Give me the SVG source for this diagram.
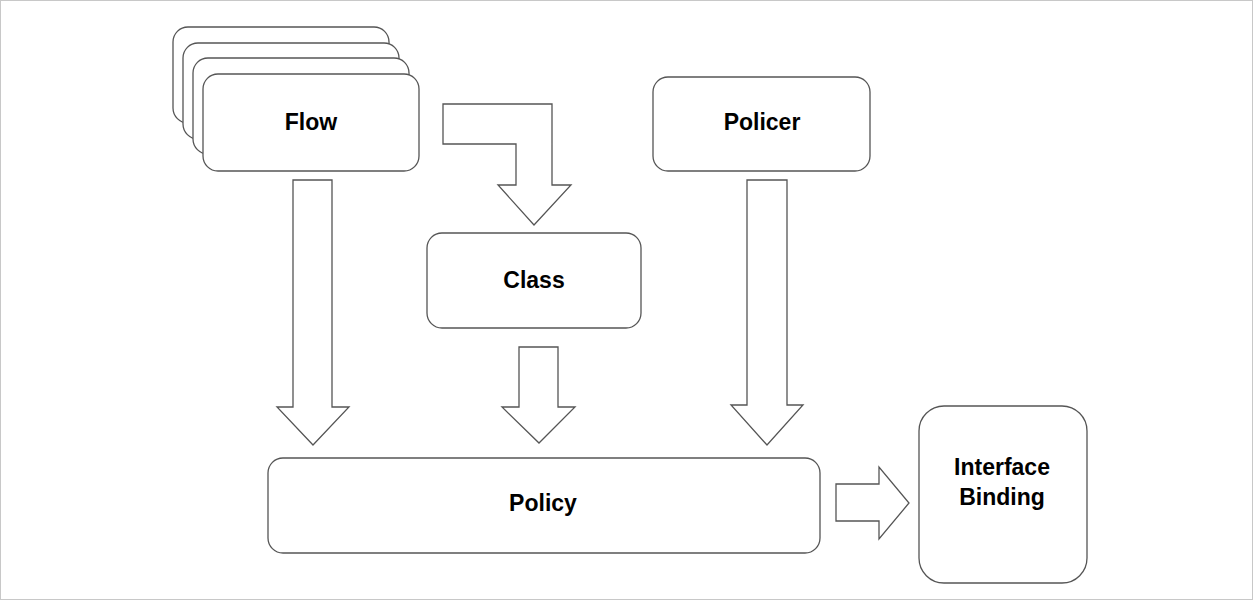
<svg xmlns="http://www.w3.org/2000/svg" width="1253" height="600" viewBox="0 0 1253 600">
<style>
.box{fill:#fff;stroke:#555;stroke-width:1.3}
.arr{fill:#fff;stroke:#555;stroke-width:1.3;stroke-linejoin:miter}
.lbl{font-family:"Liberation Sans",Arial,sans-serif;font-weight:bold;font-size:23px;fill:#000;text-anchor:middle}
</style>
<rect x="0.5" y="0.5" width="1252" height="599" fill="#fff" stroke="#c8c8c8" stroke-width="1"/>
<g id="connectors">
<path class="arr" d="M443,104 L552,104 L552,185 L571,185 L534,225 L498,185 L516,185 L516,144 L443,144 Z"/>
<path class="arr" d="M293,180 L332,180 L332,407 L349,407 L313,445 L277,407 L293,407 Z"/>
<path class="arr" d="M519,347 L558,347 L558,407 L575,407 L539,443 L502,407 L519,407 Z"/>
<path class="arr" d="M747,180 L787,180 L787,405 L803,405 L767,445 L731,405 L747,405 Z"/>
<path class="arr" d="M836,484 L879,484 L879,467 L909,503 L879,539 L879,521 L836,521 Z"/>
</g>
<g id="flow">
<rect class="box" x="173" y="27" width="216" height="96" rx="15"/>
<rect class="box" x="183" y="43" width="216" height="96" rx="15"/>
<rect class="box" x="193" y="58" width="216" height="96" rx="15"/>
<rect class="box" x="203" y="74" width="216" height="97" rx="15"/>
<text class="lbl" x="311" y="130">Flow</text>
</g>
<g id="class">
<rect class="box" x="427" y="233" width="214" height="95" rx="15"/>
<text class="lbl" x="534" y="288">Class</text>
</g>
<g id="policer">
<rect class="box" x="653" y="77" width="217" height="94" rx="15"/>
<text class="lbl" x="762" y="130">Policer</text>
</g>
<g id="policy">
<rect class="box" x="268" y="458" width="552" height="95" rx="15"/>
<text class="lbl" x="543" y="511">Policy</text>
</g>
<g id="interface-binding">
<rect class="box" x="919" y="406" width="168" height="177" rx="25"/>
<text class="lbl" x="1002" y="475">Interface</text>
<text class="lbl" x="1002" y="505">Binding</text>
</g>
</svg>
